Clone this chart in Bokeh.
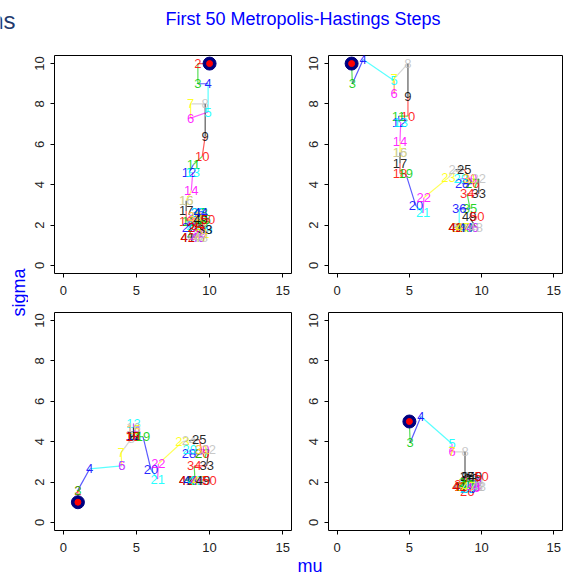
import math
from bokeh.plotting import figure
from bokeh.models import Range1d, Label, FixedTicker
from bokeh.layouts import column, row
from bokeh.embed import file_html
from bokeh.resources import INLINE
from bokeh.core.properties import value

# R default palette, cycled by step number
palette = ["#000000", "#FF0000", "#00CD00", "#0000FF",
           "#00FFFF", "#FF00FF", "#FFFF00", "#BEBEBE"]
x_ticks = [0, 5, 10, 15]
y_ticks = [0, 2, 4, 6, 8, 10]

# Panel 1 (top-left), start (10, 10)
tl_mu = [10.0, 9.2, 9.2, 9.9, 9.9, 8.7, 8.7, 9.7, 9.7, 9.5,
         8.9, 8.6, 8.85, 8.75, 8.4, 8.4, 8.4, 8.4, 8.6, 8.6,
         8.9, 9.0, 9.3, 9.3, 9.0, 9.0, 9.5, 9.7, 9.7, 9.3,
         9.5, 9.7, 9.7, 9.2, 9.6, 9.2, 9.2, 9.0, 9.0, 9.0,
         8.5, 8.5, 9.4, 9.4, 9.2, 9.2, 9.4, 9.4, 9.4, 9.9]
tl_sigma = [10.0, 10.0, 9.0, 9.0, 7.6, 7.3, 8.0, 8.0, 6.4, 5.4,
            5.0, 4.6, 4.6, 3.7, 3.2, 3.2, 2.7, 2.2, 2.2, 1.9,
            2.0, 2.3, 2.1, 2.1, 1.9, 1.9, 2.0, 1.8, 1.8, 1.6,
            1.6, 1.8, 1.8, 2.0, 2.3, 2.6, 2.6, 2.4, 2.4, 1.4,
            1.4, 1.4, 2.6, 2.6, 1.4, 1.4, 1.4, 1.4, 2.3, 2.3]

# Panel 2 (top-right), start (1, 10)
tr_mu = [1.0, 1.0, 1.05, 1.8, 3.95, 3.95, 3.95, 4.9, 4.9, 4.9,
         4.25, 4.3, 4.4, 4.35, 4.35, 4.35, 4.35, 4.35, 4.75, 5.45,
         5.95, 6.0, 7.7, 8.2, 8.8, 9.35, 9.35, 8.65, 8.55, 9.2,
         9.2, 9.8, 9.8, 9.0, 9.2, 8.45, 8.45, 8.45, 8.45, 8.45,
         8.2, 8.2, 8.9, 8.9, 9.3, 9.3, 8.7, 9.6, 9.15, 9.7]
tr_sigma = [10.0, 10.0, 9.0, 10.2, 9.15, 8.5, 9.25, 10.0, 8.35, 7.4,
            7.4, 7.1, 7.1, 6.15, 5.6, 5.6, 5.05, 4.55, 4.55, 2.95,
            2.6, 3.35, 4.35, 4.75, 4.75, 4.05, 4.05, 4.05, 4.3, 4.3,
            4.3, 4.3, 3.55, 3.55, 2.8, 2.8, 1.9, 1.9, 1.9, 1.9,
            1.9, 1.9, 1.9, 1.9, 1.9, 1.9, 1.9, 1.9, 2.4, 2.4]

# Panel 3 (bottom-left), start (1, 1)
bl_mu = [1.0, 1.0, 1.0, 1.8, 4.0, 4.0, 3.95, 4.65, 4.7, 4.75,
         4.8, 4.8, 4.8, 4.8, 4.8, 4.8, 4.8, 4.75, 5.45, 6.0,
         6.45, 6.5, 8.15, 8.6, 9.3, 9.5, 9.5, 8.6, 8.65, 9.5,
         9.5, 9.95, 9.8, 8.95, 9.0, 9.0, 9.0, 9.0, 9.0, 9.0,
         8.4, 8.4, 8.7, 8.7, 9.0, 9.2, 9.3, 9.6, 9.55, 10.0]
bl_sigma = [1.0, 1.6, 1.6, 2.65, 2.8, 2.8, 3.45, 4.15, 4.3, 4.3,
            4.3, 4.3, 4.9, 4.6, 4.6, 4.7, 4.25, 4.25, 4.25, 2.6,
            2.15, 2.9, 4.0, 4.05, 4.1, 3.4, 3.4, 3.4, 3.6, 3.6,
            3.6, 3.6, 2.8, 2.8, 2.1, 2.1, 2.1, 2.1, 2.1, 2.1,
            2.1, 2.1, 2.1, 2.1, 2.1, 2.1, 2.1, 2.1, 2.1, 2.1]

# Panel 4 (bottom-right), start (5, 5)
br_mu = [5.0, 5.0, 5.05, 5.8, 7.95, 7.95, 7.95, 8.85, 8.85, 9.1,
         9.3, 9.3, 8.9, 9.4, 9.4, 9.6, 9.0, 8.6, 9.2, 9.0,
         9.0, 9.5, 8.7, 9.3, 9.0, 9.0, 9.2, 9.2, 9.5, 9.5,
         9.1, 9.7, 9.3, 8.6, 8.9, 9.1, 9.1, 9.4, 9.0, 9.6,
         8.5, 8.45, 9.0, 9.2, 9.2, 9.4, 9.1, 9.8, 9.55, 10.0]
br_sigma = [5.0, 5.0, 3.95, 5.25, 3.9, 3.5, 3.5, 3.5, 2.3, 2.0,
            1.8, 1.8, 1.9, 2.0, 2.0, 1.8, 2.1, 1.8, 1.9, 1.7,
            1.7, 1.9, 1.8, 2.3, 2.3, 1.55, 1.8, 1.8, 2.0, 2.0,
            1.85, 1.8, 2.2, 1.9, 2.0, 1.7, 1.7, 1.8, 1.8, 2.1,
            1.8, 1.8, 1.9, 1.8, 1.8, 1.75, 1.8, 1.8, 2.3, 2.3]

FONT = "Liberation Sans"


def panel(mu, sigma, width, height, bl, br, bt, bb):
    p = figure(width=width, height=height, title=None,
               x_range=Range1d(-0.6, 15.6), y_range=Range1d(-0.4, 10.4),
               output_backend="svg", toolbar_location=None,
               min_border_left=bl, min_border_right=br,
               min_border_top=bt, min_border_bottom=bb)
    p.grid.visible = False
    p.outline_line_color = "black"
    p.outline_line_width = 1
    p.background_fill_color = "white"
    p.border_fill_color = "white"
    p.xaxis.ticker = FixedTicker(ticks=x_ticks)
    p.yaxis.ticker = FixedTicker(ticks=y_ticks)
    for ax in (p.xaxis, p.yaxis):
        ax.axis_line_color = None
        ax.major_tick_in = 0
        ax.major_tick_out = 4
        ax.major_tick_line_color = "black"
        ax.minor_tick_line_color = None
        ax.major_label_text_font = FONT
        ax.major_label_text_font_size = "13px"
        ax.major_label_text_color = "#222222"
    p.xaxis.major_label_standoff = 8
    p.yaxis.major_label_standoff = 6
    p.yaxis.major_label_orientation = "vertical"

    steps = list(range(1, len(mu) + 1))
    cols = [palette[(s - 1) % 8] for s in steps]
    p.segment(x0=mu[:-1], y0=sigma[:-1], x1=mu[1:], y1=sigma[1:],
              line_color=cols[1:], line_width=1.2, line_alpha=0.65)
    p.text(x=mu, y=sigma, text=[str(s) for s in steps], text_color=cols,
           text_align="center", text_baseline="middle", text_alpha=0.85,
           text_font=value(FONT), text_font_size="13px")
    p.scatter(x=mu[:1], y=sigma[:1], marker="circle", size=13,
              fill_color="#000080", line_color="#000080")
    p.scatter(x=mu[:1], y=sigma[:1], marker="circle", size=6,
              fill_color="#FF0000", line_color="#FF0000")
    return p


def text_fig(width, height):
    f = figure(width=width, height=height, title=None,
               x_range=Range1d(0, width), y_range=Range1d(0, height),
               output_backend="svg", toolbar_location=None,
               x_axis_location=None, y_axis_location=None, min_border=0)
    f.grid.visible = False
    f.outline_line_color = None
    return f


tl = panel(tl_mu, tl_sigma, 269, 272, 26, 6, 19, 35)
tr = panel(tr_mu, tr_sigma, 267, 272, 31, 2, 19, 35)
bl = panel(bl_mu, bl_sigma, 269, 249, 26, 6, 4, 27)
br = panel(br_mu, br_sigma, 267, 249, 31, 2, 4, 27)

tf = text_fig(564, 36)
tf.add_layout(Label(x=165, y=17.5, text="First 50 Metropolis-Hastings Steps",
                    text_font=FONT, text_font_size="18px", text_color="#0000FF",
                    text_align="left", text_baseline="middle"))
tf.add_layout(Label(x=15, y=16.5, text="ns", text_font=FONT, text_font_size="24px",
                    text_color="#1F3A6E", text_align="right",
                    text_baseline="middle"))

sf = text_fig(28, 521)
sf.add_layout(Label(x=18, y=265, text="sigma", angle=math.pi / 2,
                    text_font=FONT, text_font_size="18px", text_color="#0000FF",
                    text_align="center", text_baseline="middle"))

mf = text_fig(564, 16)
mf.add_layout(Label(x=309.5, y=8, text="mu", text_font=FONT,
                    text_font_size="18px", text_color="#0000FF",
                    text_align="center", text_baseline="middle"))

layout = column(tf, row(sf, column(row(tl, tr), row(bl, br))), mf)

open("out.html", "w").write(file_html(layout, INLINE))
